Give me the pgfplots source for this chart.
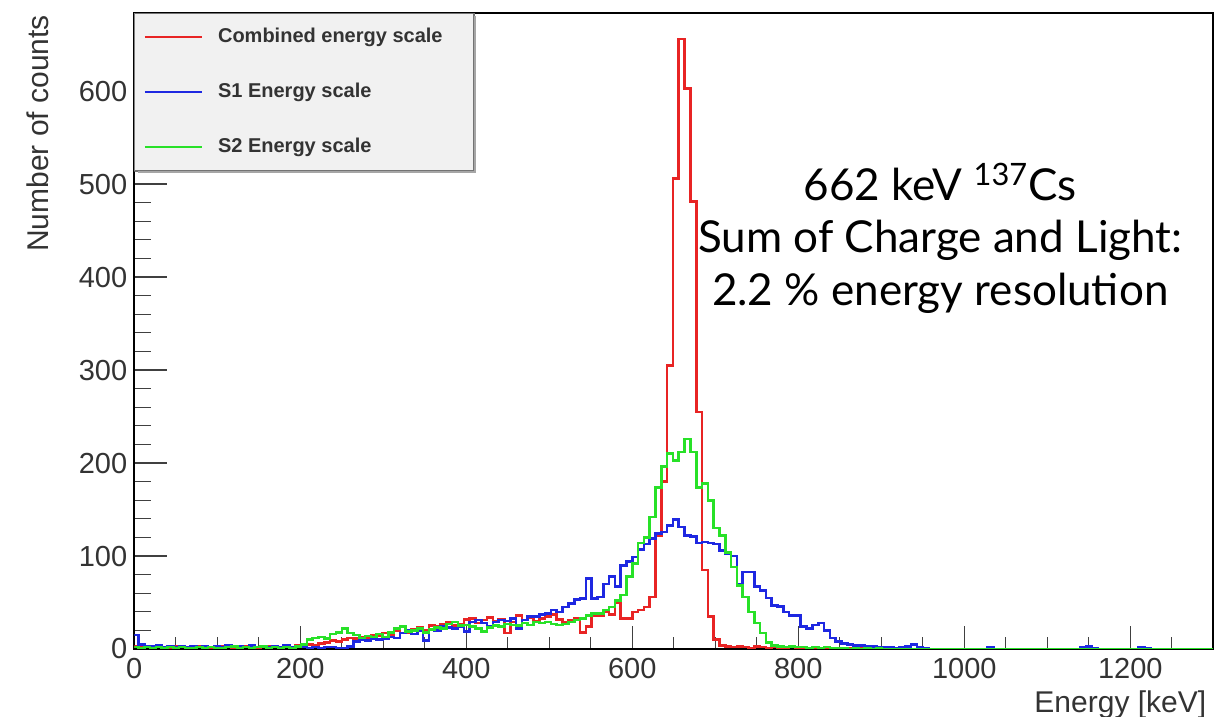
\documentclass[border=0pt]{standalone}
\usepackage{fontspec}
\setmainfont{Liberation Sans}
\newfontfamily\notefont{Lato}
\usepackage{pgfplots}
\usepackage{pgfplotstable}
\pgfplotsset{compat=1.18}

\definecolor{histred}{RGB}{232,36,36}
\definecolor{histblue}{RGB}{30,40,225}
\definecolor{histgreen}{RGB}{40,225,40}
\definecolor{legfill}{RGB}{241,241,241}

% Energy spectra, 7 keV bins (left bin edge in keV, counts per bin)
\pgfplotstableread{
E    comb  sone  stwo
-2   3     15    2
5    2     5     1
12   3     3     2
19   2     3     1
26   3     4     2
33   2     2     1
40   1     3     2
47   3     2     1
54   2     3     2
61   1     2     1
68   2     3     1
75   3     2     2
82   2     3     1
89   1     2     2
96   2     3     1
103  3     2     1
110  2     4     2
117  1     2     3
124  2     3     1
131  3     2     2
138  2     4     1
145  1     2     2
152  2     3     3
159  3     2     1
166  2     3     2
173  1     2     1
180  3     4     2
187  2     2     1
194  4     3     3
201  3     2     5
208  5     1     10
215  4     2     12
222  6     1     13
229  7     2     11
236  9     2     16
243  8     1     18
250  10    1     22
257  12    3     17
264  11    8     15
271  13    10    12
278  12    9     14
285  15    11    13
292  14    10    16
299  17    11    13
306  15    13    18
313  20    12    22
320  24    17    24
327  18    20    19
334  21    16    20
341  23    20    22
348  20    9     18
355  25    21    21
362  24    20    23
369  27    24    22
376  29    23    27
383  25    22    29
390  27    24    25
397  32    19    26
404  33    29    24
411  28    31    22
418  31    28    19
425  34    24    23
432  30    29    25
439  32    31    24
446  17    30    27
453  29    33    26
460  36    22    25
467  31    31    28
474  34    35    26
481  30    35    29
488  33    37    28
495  35    38    29
502  37    42    27
509  32    40    26
516  29    45    27
523  31    49    29
530  33    53    31
537  18    54    33
544  24    76    36
551  36    54    38
558  36    56    38
565  40    70    42
572  37    78    45
579  50    67    52
586  33    90    58
593  33    94    78
600  40    99    92
607  42    107   114
614  45    113   120
621  56    119   142
628  122   124   174
635  180   126   196
642  305   133   210
649  506   139   203
656  656   131   212
663  603   122   226
670  481   121   212
677  255   114   174
684  85    115   178
691  35    114   160
698  10    113   130
705  4     106   122
712  3     103   104
719  2     100   88
726  3     70    68
733  2     83    56
740  1     83    40
747  3     67    28
754  2     63    17
761  1     55    7
768  2     47    4
775  1     46    3
782  1     40    2
789  2     36    3
796  1     36    2
803  1     24    2
810  0     22    1
817  1     26    2
824  0     28    1
831  1     20    2
838  0     12    1
845  1     8     1
852  0     6     1
859  1     5     0
866  0     4     1
873  1     4     0
880  0     3     1
887  0     3     0
894  1     2     1
901  0     2     0
908  0     2     0
915  0     1     0
922  0     2     0
929  0     3     0
936  0     5     0
943  0     2     0
950  0     1     0
957  0     0     0
1028 0     2     0
1035 0     0     0
1140 1     2     0
1147 0     3     0
1154 0     1     0
1161 0     0     0
1210 0     2     0
1217 0     1     0
1224 0     0     0
1300 0     0     0
}\spectra

\begin{document}
\begin{tikzpicture}
\path[use as bounding box] (-67.15pt,-34pt) rectangle (548.35pt,324.5pt);
\begin{axis}[
  at={(0pt,0pt)}, anchor=south west,
  scale only axis,
  width=539.5pt, height=318pt,
  xmin=0, xmax=1300, ymin=0, ymax=684,
  xtick={0,200,...,1200},
  minor xtick={50,100,...,1250},
  ytick={0,100,...,600},
  minor ytick={20,40,...,680},
  tick align=inside,
  xtick pos=bottom, ytick pos=left,
  major tick length=13pt, minor tick length=7pt,
  xtick style={/pgfplots/major tick length=11.5pt, /pgfplots/minor tick length=6pt},
  ytick style={/pgfplots/major tick length=16.5pt, /pgfplots/minor tick length=8.5pt},
  tick style={black!75, line width=0.6pt},
  axis line style={black, line width=0.9pt},
  /pgf/number format/assume math mode=true,
  /pgf/number format/set thousands separator={},
  ticklabel style={font=\fontsize{14.5}{16}\selectfont, text=black!80},
  xticklabel style={yshift=-1pt},
  xlabel={Energy [keV]},
  ylabel={Number of counts},
  label style={font=\fontsize{15}{17}\selectfont, text=black!80},
  xlabel style={at={(axis description cs:1,0)}, anchor=north east, yshift=-17.5pt},
  ylabel style={at={(axis description cs:-0.089,1.008)}, anchor=east},
  legend cell align=left,
  legend image code/.code={\draw[#1, line width=1.1pt] (0pt,0pt) -- (28.5pt,0pt);},
  legend style={at={(axis description cs:0.0085,0.978)}, anchor=north west,
    draw=none, fill=none, inner sep=0pt,
    font=\bfseries\fontsize{10}{12}\selectfont, text=black!80,
    row sep=18pt,
    nodes={inner xsep=0pt, inner ysep=0pt, text height=7.5pt, text depth=2pt},
    /tikz/every odd column/.append style={column sep=7.5pt}},
]
% legend frame
\draw[draw=black!55, fill=legfill, line width=0.7pt]
  (axis description cs:0,1) rectangle (axis description cs:0.315,0.7515);
\draw[black!35, line width=0.8pt]
  (axis description cs:0.316,0.995) -- (axis description cs:0.316,0.750)
  -- (axis description cs:0.003,0.750);

\addplot[const plot, histred, line width=1.3pt] table[x=E, y=comb] {\spectra};
\addlegendentry{Combined energy scale}
\addplot[const plot, histblue, line width=1.3pt] table[x=E, y=sone] {\spectra};
\addlegendentry{S1 Energy scale}
\addplot[const plot, histgreen, line width=1.3pt] table[x=E, y=stwo] {\spectra};
\addlegendentry{S2 Energy scale}

\node[align=center, font=\notefont\fontsize{22}{26.25}\selectfont, text=black]
  at (axis cs:971,442)
  {662 keV \textsuperscript{137}Cs\\Sum of Charge and Light:\\2.2 \% energy resolution};
\end{axis}
\end{tikzpicture}
\end{document}
